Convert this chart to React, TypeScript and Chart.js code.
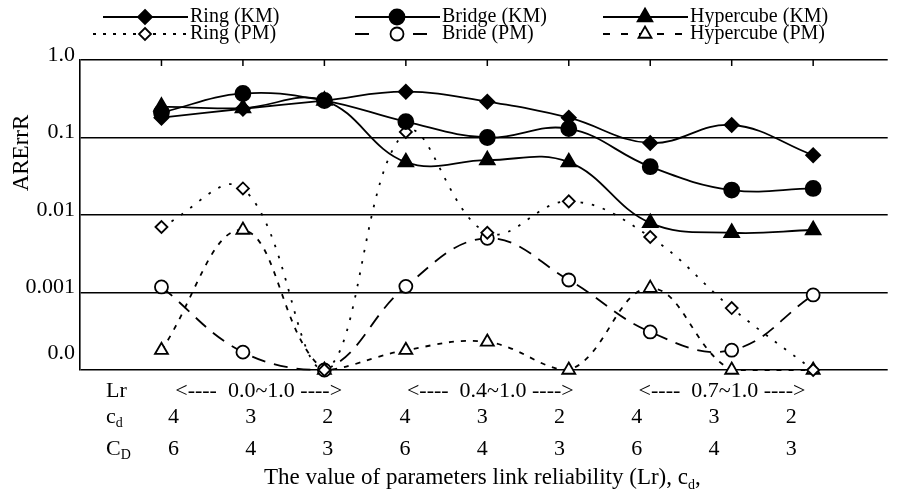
import React, { useEffect, useRef } from 'react';
import { Chart, registerables } from 'chart.js';

Chart.register(...registerables);

// ---------- data ----------
const categories = [1, 2, 3, 4, 5, 6, 7, 8, 9];
const lrGroups = ['0.0~1.0', '0.4~1.0', '0.7~1.0'];
const cdLabels = ['4', '3', '2', '4', '3', '2', '4', '3', '2'];
const CDLabels = ['6', '4', '3', '6', '4', '3', '6', '4', '3'];
const yTickValues = [1, 0.1, 0.01, 0.001, 0.00014, 0.0001];
const yTickLabels = ['1.0', '0.1', '0.01', '0.001', '0.0', ''];

const ringKM = [0.18, 0.235, 0.3, 0.39, 0.29, 0.18, 0.085, 0.145, 0.059];
const bridgeKM = [0.21, 0.37, 0.3, 0.16, 0.1, 0.13, 0.042, 0.021, 0.022];
const hyperKM = [0.25, 0.24, 0.3, 0.048, 0.051, 0.048, 0.0079, 0.0059, 0.0064];
const ringPM = [0.007, 0.022, 0.0001, 0.118, 0.0059, 0.015, 0.0052, 0.00063, 0.0001];
const bridePM = [0.00118, 0.00017, 0.0001, 0.0012, 0.005, 0.00145, 0.00031, 0.00018, 0.00093];
const hyperPM = [0.00018, 0.0064, 0.0001, 0.00018, 0.00023, 0.0001, 0.00114, 0.0001, 0.0001];

// ---------- styles ----------
const FONT = "'Liberation Serif', 'Times New Roman', serif";

type Def = { label: string; data: number[]; shape: string; r: number; filled: boolean; dash: number[]; legendDash: number[] };
const seriesDefs: Def[] = [
  { label: 'Ring (KM)', data: ringKM, shape: 'rectRot', r: 7, filled: true, dash: [], legendDash: [] },
  { label: 'Bridge (KM)', data: bridgeKM, shape: 'circle', r: 7.5, filled: true, dash: [], legendDash: [] },
  { label: 'Hypercube (KM)', data: hyperKM, shape: 'triangle', r: 8.5, filled: true, dash: [], legendDash: [] },
  { label: 'Ring (PM)', data: ringPM, shape: 'rectRot', r: 6, filled: false, dash: [2.5, 9], legendDash: [3, 7] },
  { label: 'Bride (PM)', data: bridePM, shape: 'circle', r: 6.5, filled: false, dash: [14, 9], legendDash: [14, 44] },
  { label: 'Hypercube (PM)', data: hyperPM, shape: 'triangle', r: 7.5, filled: false, dash: [5, 7], legendDash: [7, 11] },
];

function drawMarker(ctx: CanvasRenderingContext2D, shape: string, x: number, y: number, r: number, filled: boolean) {
  ctx.save();
  ctx.setLineDash([]);
  ctx.beginPath();
  if (shape === 'rectRot') {
    ctx.moveTo(x, y - r); ctx.lineTo(x + r, y); ctx.lineTo(x, y + r); ctx.lineTo(x - r, y); ctx.closePath();
  } else if (shape === 'circle') {
    ctx.arc(x, y, r, 0, Math.PI * 2);
  } else {
    const a1 = (2 * Math.PI) / 3, a2 = (4 * Math.PI) / 3;
    ctx.moveTo(x, y - r);
    ctx.lineTo(x + r * Math.sin(a1), y - r * Math.cos(a1));
    ctx.lineTo(x + r * Math.sin(a2), y - r * Math.cos(a2));
    ctx.closePath();
  }
  ctx.fillStyle = filled ? '#000' : '#fff';
  ctx.fill();
  ctx.lineWidth = 1.8;
  ctx.strokeStyle = '#000';
  ctx.stroke();
  ctx.restore();
}

type Part = { t: string; sub?: boolean };
function richWidth(ctx: CanvasRenderingContext2D, parts: Part[], size: number) {
  let w = 0;
  parts.forEach((p) => {
    ctx.font = `${p.sub ? Math.round(size * 0.62) : size}px ${FONT}`;
    w += ctx.measureText(p.t).width;
  });
  return w;
}
function drawRich(ctx: CanvasRenderingContext2D, parts: Part[], x: number, y: number, size: number) {
  let cx = x;
  parts.forEach((p) => {
    const s = p.sub ? Math.round(size * 0.62) : size;
    ctx.font = `${s}px ${FONT}`;
    ctx.textAlign = 'left';
    ctx.textBaseline = 'middle';
    ctx.fillText(p.t, cx, p.sub ? y + size * 0.3 : y);
    cx += ctx.measureText(p.t).width;
  });
}

const decorPlugin = {
  id: 'decor',
  afterDraw(chart: any) {
    const { ctx, chartArea, scales } = chart;
    const xs = scales.x;
    ctx.save();
    ctx.fillStyle = '#000';
    ctx.strokeStyle = '#000';

    // small tick marks hanging from the top border
    ctx.lineWidth = 1.5;
    categories.forEach((v) => {
      const px = xs.getPixelForValue(v);
      ctx.beginPath();
      ctx.moveTo(px, chartArea.top);
      ctx.lineTo(px, chartArea.top + 6);
      ctx.stroke();
    });

    // y axis title
    ctx.save();
    ctx.translate(22, chartArea.top + 93);
    ctx.rotate(-Math.PI / 2);
    ctx.font = `23px ${FONT}`;
    ctx.textAlign = 'center';
    ctx.textBaseline = 'middle';
    ctx.fillText('ARErrR', 0, 0);
    ctx.restore();

    // rows under the plot
    const c = xs.getPixelForValue(5);
    const textX = (v: number) => c - 5 + 0.948 * (xs.getPixelForValue(v) - c);
    const yLr = chartArea.bottom + 21;
    const yCd = chartArea.bottom + 47;
    const yCD = chartArea.bottom + 79;
    const yTitle = chartArea.bottom + 108;
    const hx = chartArea.left + 26;
    const size = 22;

    drawRich(ctx, [{ t: 'Lr' }], hx, yLr, size);
    drawRich(ctx, [{ t: 'c' }, { t: 'd', sub: true }], hx, yCd, size);
    drawRich(ctx, [{ t: 'C' }, { t: 'D', sub: true }], hx, yCD, size);

    ctx.font = `${size}px ${FONT}`;
    ctx.textAlign = 'center';
    ctx.textBaseline = 'middle';
    lrGroups.forEach((g, k) => {
      ctx.fillText(`<----  ${g} ---->`, textX(2 + 3 * k) + 8, yLr);
    });
    categories.forEach((v, i) => {
      ctx.fillText(cdLabels[i], textX(v), yCd);
      ctx.fillText(CDLabels[i], textX(v), yCD);
    });

    const titleParts: Part[] = [
      { t: 'The value of parameters link reliability (Lr), c' },
      { t: 'd', sub: true },
      { t: ',' },
    ];
    const tw = richWidth(ctx, titleParts, 23);
    drawRich(ctx, titleParts, c - 5 - tw / 2, yTitle, 23);

    // legend
    const colX = [103, 355, 603];
    const rowY = [17, 34];
    seriesDefs.forEach((d, i) => {
      const col = i % 3;
      const row = Math.floor(i / 3);
      const x0 = colX[col] - (row === 1 && col === 0 ? 10 : 0);
      const x1 = colX[col] + 85;
      const y = rowY[row];
      ctx.save();
      ctx.lineWidth = 1.8;
      ctx.setLineDash(d.legendDash);
      ctx.beginPath();
      ctx.moveTo(x0, y);
      ctx.lineTo(x1, y);
      ctx.stroke();
      ctx.restore();
      drawMarker(ctx, d.shape, colX[col] + 42, y, d.r, d.filled);
      ctx.font = `20px ${FONT}`;
      ctx.textAlign = 'left';
      ctx.textBaseline = 'middle';
      ctx.fillStyle = '#000';
      ctx.fillText(d.label, colX[col] + 87, y);
    });

    ctx.restore();
  },
};

export default function App() {
  const ref = useRef<HTMLCanvasElement | null>(null);
  useEffect(() => {
    if (!ref.current) return;
    const chart = new Chart(ref.current, {
      type: 'line',
      data: {
        datasets: seriesDefs.map((d) => ({
          label: d.label,
          data: d.data.map((y, i) => ({ x: categories[i], y })),
          borderColor: '#000',
          borderWidth: 1.8,
          borderDash: d.dash,
          tension: 0.4,
          fill: false,
          clip: false as any,
          pointStyle: d.shape as any,
          pointRadius: d.r,
          pointBackgroundColor: d.filled ? '#000' : '#fff',
          pointBorderColor: '#000',
          pointBorderWidth: 1.8,
        })),
      },
      options: {
        responsive: false,
        animation: false,
        devicePixelRatio: 1,
        layout: { padding: { top: 60, bottom: 124, left: 0, right: 0 } },
        plugins: { legend: { display: false }, tooltip: { enabled: false }, title: { display: false } },
        scales: {
          x: { type: 'linear', display: false, min: 0, max: 9.915 },
          y: {
            type: 'logarithmic',
            min: 0.0001,
            max: 1,
            afterBuildTicks: (s: any) => {
              s.ticks = yTickValues.map((v) => ({ value: v }));
            },
            afterFit: (s: any) => {
              s.width = 80;
            },
            ticks: {
              autoSkip: false,
              callback: (_v: any, i: number) => yTickLabels[i],
              font: { family: FONT, size: 22 },
              color: '#000',
              padding: 5,
              labelOffset: -5,
            },
            grid: {
              color: (c: any) => (c.index === 4 ? 'rgba(0,0,0,0)' : '#000'),
              lineWidth: 1.6,
              drawTicks: false,
            },
            border: { display: true, color: '#000', width: 1.6 },
          },
        },
      },
      plugins: [decorPlugin],
    } as any);
    return () => chart.destroy();
  }, []);
  return (
    <canvas
      ref={ref}
      width={898}
      height={494}
      style={{ position: 'absolute', left: 0, top: 0, display: 'block', background: '#fff' }}
    />
  );
}
